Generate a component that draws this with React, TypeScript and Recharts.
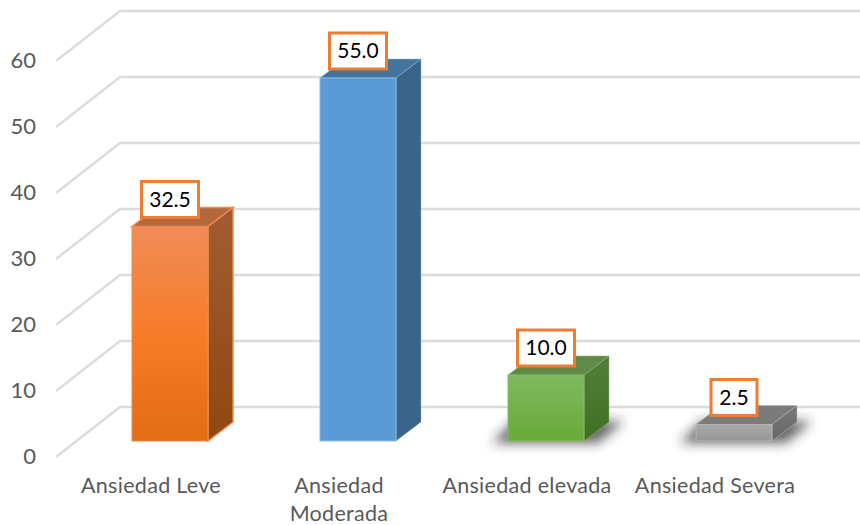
import React from "react";
import { BarChart, Bar, XAxis, YAxis, CartesianGrid, LabelList } from "recharts";

const categories = ["Ansiedad Leve", "Ansiedad Moderada", "Ansiedad elevada", "Ansiedad Severa"];
const tickLines = [["Ansiedad Leve"], ["Ansiedad", "Moderada"], ["Ansiedad elevada"], ["Ansiedad Severa"]];
const percentages = [32.5, 55.0, 10.0, 2.5];
const yTicks = [0, 10, 20, 30, 40, 50, 60];

const rows = categories.map((name, i) => ({ name, value: percentages[i] }));

const FONT = "Lato, Carlito, sans-serif";
const TEXT_GREY = "#595959";
const GRID = "#DCDCDC";
const LABEL_BORDER = "#ED7D31";

// Oblique projection of the third dimension
const DX = 25;
const DY = 19;

const faces = [
  { front: "url(#frontOrange)", top: "#B5683C", side: "url(#sideOrange)", edge: "#F08A4B", shadow: false },
  { front: "#5B9BD5", top: "#44739E", side: "#3A6488", edge: "#8DB8E0", shadow: false },
  { front: "url(#frontGreen)", top: "#5F8A48", side: "url(#sideGreen)", edge: "#86BC66", shadow: true },
  { front: "url(#frontGrey)", top: "#7B7B7B", side: "url(#sideGrey)", edge: "#B5B5B5", shadow: true },
];

function Bar3D(props: any) {
  const { x, y, width, height, index } = props;
  const f = faces[index];
  const base = y + height;
  return (
    <g>
      {f.shadow && (
        <polygon
          points={`${x - 16},${base + 2} ${x + 6},${base - 20} ${x + width + 40},${base - 20} ${x + width + 14},${base + 2}`}
          fill="#2A2A2A"
          fillOpacity={0.72}
          filter="url(#softShadow)"
        />
      )}
      <polygon
        points={`${x},${y} ${x + DX},${y - DY} ${x + width + DX},${y - DY} ${x + width},${y}`}
        fill={f.top}
        stroke={f.edge}
        strokeWidth={index === 0 ? 1.5 : 0.5}
      />
      <polygon
        points={`${x + width},${y} ${x + DX + width},${y - DY} ${x + width + DX},${base - DY} ${x + width},${base}`}
        fill={f.side}
        stroke={f.edge}
        strokeWidth={index === 0 ? 1.5 : 0.5}
      />
      <rect x={x} y={y} width={width} height={height} fill={f.front} stroke={f.edge} strokeWidth={1} />
    </g>
  );
}

function ValueBox(props: any) {
  const { x, y, width, value } = props;
  const text = Number(value).toFixed(1);
  const w = text.length > 3 ? 57 : 46;
  const h = 36;
  const cx = x + width / 2;
  const cy = y - 27;
  return (
    <g>
      <rect x={cx - w / 2} y={cy - h / 2} width={w} height={h} fill="#FFFFFF" stroke={LABEL_BORDER} strokeWidth={3} />
      <text x={cx} y={cy + 2} textAnchor="middle" dominantBaseline="middle" fontFamily={FONT} fontSize={21} fill="#000000">
        {text}
      </text>
    </g>
  );
}

function CategoryTick(props: any) {
  const { x, y, index } = props;
  return (
    <text textAnchor="middle" fontFamily={FONT} fontSize={21.5} fill={TEXT_GREY} style={{ letterSpacing: 0.3 }}>
      {tickLines[index].map((line: string, i: number) => (
        <tspan key={line} x={x - 19} y={y + 44 + i * 28}>
          {line}
        </tspan>
      ))}
    </text>
  );
}

function ValueTick(props: any) {
  const { y, payload } = props;
  return (
    <text x={36} y={y + 22.5} textAnchor="end" fontFamily={FONT} fontSize={22} fill={TEXT_GREY}>
      {payload.value}
    </text>
  );
}

// Each grid line runs along the side wall, then across the back wall
function WallLine(props: any) {
  const { x1, x2, y1 } = props;
  return (
    <path
      d={`M${x1 - 20},${y1 + 16} L${x1 + 44},${y1 - 34} L${x2 + 32},${y1 - 34}`}
      fill="none"
      stroke={GRID}
      strokeWidth={2.5}
    />
  );
}

export default function App() {
  return (
    <div style={{ position: "absolute", left: 0, top: 0, width: 860, height: 525, background: "#FFFFFF" }}>
      <BarChart
        width={860}
        height={525}
        data={rows}
        margin={{ top: 45, right: 32, bottom: 0, left: 0 }}
        barSize={76}
      >
        <defs>
          <linearGradient id="frontOrange" x1="0" y1="0" x2="0" y2="1">
            <stop offset="0" stopColor="#F08C58" />
            <stop offset="0.5" stopColor="#F77C28" />
            <stop offset="1" stopColor="#E36C16" />
          </linearGradient>
          <linearGradient id="sideOrange" x1="0" y1="0" x2="0" y2="1">
            <stop offset="0" stopColor="#A35C32" />
            <stop offset="1" stopColor="#8F480F" />
          </linearGradient>
          <linearGradient id="frontGreen" x1="0" y1="0" x2="0" y2="1">
            <stop offset="0" stopColor="#80B95F" />
            <stop offset="1" stopColor="#69AA38" />
          </linearGradient>
          <linearGradient id="sideGreen" x1="0" y1="0" x2="0" y2="1">
            <stop offset="0" stopColor="#527F3B" />
            <stop offset="1" stopColor="#3F7022" />
          </linearGradient>
          <linearGradient id="frontGrey" x1="0" y1="0" x2="0" y2="1">
            <stop offset="0" stopColor="#A8A8A8" />
            <stop offset="1" stopColor="#979797" />
          </linearGradient>
          <linearGradient id="sideGrey" x1="0" y1="0" x2="0" y2="1">
            <stop offset="0" stopColor="#787878" />
            <stop offset="1" stopColor="#666666" />
          </linearGradient>
          <filter id="softShadow" x="-40%" y="-100%" width="180%" height="300%">
            <feGaussianBlur stdDeviation="6" />
          </filter>
        </defs>
        <CartesianGrid vertical={false} horizontal={(p: any) => <WallLine key={p.y1} {...p} />} />
        <XAxis
          dataKey="name"
          axisLine={false}
          tickLine={false}
          height={84}
          interval={0}
          tick={(p: any) => <CategoryTick {...p} />}
        />
        <YAxis
          domain={[0, 60]}
          ticks={yTicks}
          width={76}
          axisLine={false}
          tickLine={false}
          tick={(p: any) => <ValueTick {...p} />}
        />
        <Bar dataKey="value" isAnimationActive={false} shape={(p: any) => <Bar3D {...p} />}>
          <LabelList dataKey="value" content={(p: any) => <ValueBox {...p} />} />
        </Bar>
      </BarChart>
    </div>
  );
}
